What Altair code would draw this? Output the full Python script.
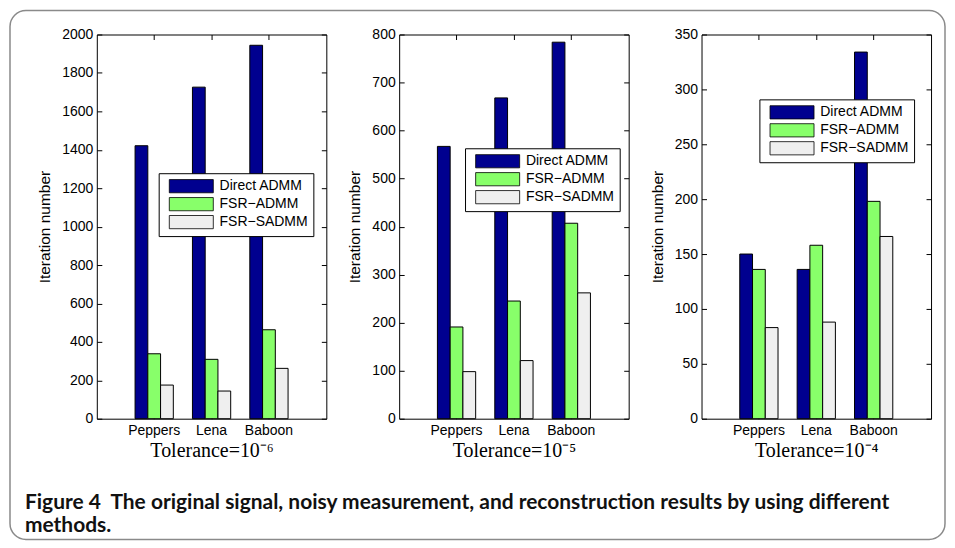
import altair as alt
import pandas as pd

# ---------------- data ----------------
images = ["Peppers", "Lena", "Baboon"]
methods = ["Direct ADMM", "FSR−ADMM", "FSR−SADMM"]
method_colors = ["#00008F", "#88FF6A", "#EFEFEF"]

tol6_direct = [1421, 1726, 1944]
tol6_fsr = [338, 309, 463]
tol6_sadmm = [175, 144, 262]

tol5_direct = [567, 668, 784]
tol5_fsr = [191, 245, 407]
tol5_sadmm = [98, 121, 262]

tol4_direct = [150, 136, 334]
tol4_fsr = [136, 158, 198]
tol4_sadmm = [83, 88, 166]

panel_titles = ["Tolerance=10⁻⁶", "Tolerance=10⁻⁵", "Tolerance=10⁻⁴"]
y_max = [2000, 800, 350]
y_step = [200, 100, 50]
y_title = "Iteration number"
caption_lines = [
    "Figure 4\u00a0 The original signal, noisy measurement, and reconstruction results by using different",
    "methods.",
]

series = [
    [tol6_direct, tol6_fsr, tol6_sadmm],
    [tol5_direct, tol5_fsr, tol5_sadmm],
    [tol4_direct, tol4_fsr, tol4_sadmm],
]

# ---------------- styling ----------------
SANS = "Liberation Sans"
SERIF = "Liberation Serif"
PW, PH = 230, 385
legend_pos = [(62, 139), (66, 114), (58, 65)]
# wide swatch: left edge at the symbol origin, 6 units wide x 1.8 units tall
legend_shape = "M-1,-0.9H5V0.9H-1Z"


def make_df(vals):
    rows = []
    for m, arr in zip(methods, vals):
        for img, v in zip(images, arr):
            rows.append({"image": img, "method": m, "value": v})
    return pd.DataFrame(rows)


def panel(i, with_frame=False):
    df = make_df(series[i])
    base = alt.Chart(df)
    ticks = list(range(0, y_max[i] + 1, y_step[i]))
    x_scale = alt.Scale(domain=images, paddingInner=1 / 3, paddingOuter=2 / 3)
    xo_scale = alt.Scale(domain=methods, paddingInner=0, paddingOuter=0)
    y_scale = alt.Scale(domain=[0, y_max[i]], nice=False, zero=True)
    lx, ly = legend_pos[i]

    bars = base.mark_bar(stroke="black", strokeWidth=1).encode(
        x=alt.X(
            "image:N",
            sort=images,
            scale=x_scale,
            axis=alt.Axis(
                orient="bottom", offset=-5, tickSize=5, domain=False,
                labelAngle=0, labelPadding=5, title=panel_titles[i],
                titleFont=SERIF, titleFontSize=20, titlePadding=3,
            ),
        ),
        xOffset=alt.XOffset("method:N", sort=methods, scale=xo_scale),
        y=alt.Y(
            "value:Q",
            stack=None,
            scale=y_scale,
            axis=alt.Axis(
                orient="left", values=ticks, format="d", offset=-5,
                tickSize=5, domain=False, grid=False, labelPadding=4,
                title=y_title, titleFont=SANS, titleFontSize=15.5,
                titlePadding=9,
            ),
        ),
        color=alt.Color(
            "method:N",
            sort=methods,
            scale=alt.Scale(domain=methods, range=method_colors),
            legend=alt.Legend(
                orient="none", legendX=lx, legendY=ly, direction="vertical",
                title=None, fillColor="white", strokeColor="black",
                padding=5, symbolType=legend_shape, symbolSize=216,
                symbolStrokeColor="black", symbolStrokeWidth=0.8,
                symbolOpacity=1, symbolOffset=5, labelFont=SANS,
                labelFontSize=14, labelColor="black", labelOffset=35,
                rowPadding=0,
            ),
        ),
    )

    ghost = base.mark_bar(opacity=0).encode(
        x=alt.X(
            "image:N", sort=images, scale=x_scale,
            axis=alt.Axis(orient="top", offset=-5, tickSize=5, domain=False,
                          labels=False, title=None),
        ),
        xOffset=alt.XOffset("method:N", sort=methods, scale=xo_scale),
        y=alt.Y(
            "value:Q", stack=None, scale=y_scale,
            axis=alt.Axis(orient="right", values=ticks, offset=-5, tickSize=5,
                          domain=False, grid=False, labels=False, title=None),
        ),
    )

    if with_frame:
        one = alt.Chart(pd.DataFrame({"k": [0]}))
        frame = one.mark_rect(
            fillOpacity=0, stroke="#8a8a8a", strokeWidth=1.5, cornerRadius=16
        ).encode(
            x=alt.value(-87), x2=alt.value(850),
            y=alt.value(-24), y2=alt.value(506),
        )
        caption = one.mark_text(
            align="left", baseline="alphabetic", font="Lato",
            fontWeight="bold", fontSize=21, lineHeight=24, color="#111",
        ).encode(
            x=alt.value(-72), y=alt.value(475), text=alt.value(caption_lines)
        )
        layers = [frame, bars, ghost, caption]
    else:
        layers = [bars, ghost]

    return alt.layer(*layers).resolve_axis(x="independent", y="independent").properties(
        width=PW, height=PH
    )


chart = (
    alt.hconcat(panel(0, True), panel(1), panel(2), spacing=73, bounds="flush")
    .resolve_scale(color="independent")
    .properties(padding=0, background="white")
    .configure_view(stroke="black", strokeWidth=1)
    .configure_axis(
        labelFont=SANS, labelFontSize=14, labelColor="black",
        tickColor="black", tickWidth=1, titleColor="black",
        titleFontWeight="normal",
    )
)

chart.save("out.html", embed_options={"renderer": "svg", "actions": False})
